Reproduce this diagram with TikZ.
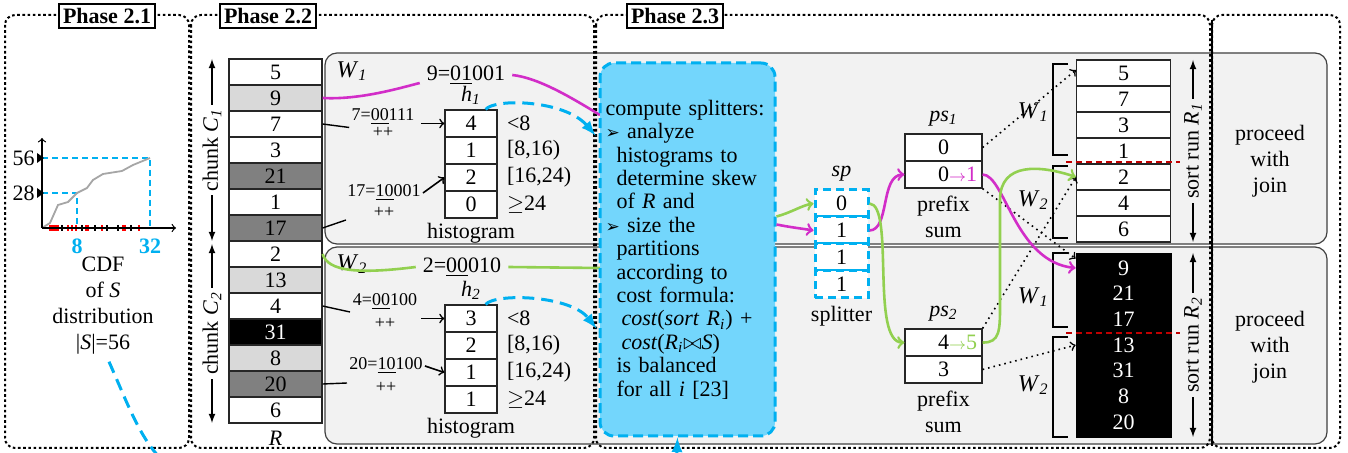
\documentclass[tikz,border=0pt]{standalone}
\usepackage{fontspec}
\setmainfont{Liberation Serif}
\newfontfamily\dingfont{DejaVu Sans}
\usepackage{xcolor}
\usetikzlibrary{positioning,calc}

\definecolor{magline}{RGB}{210,45,200}
\definecolor{grnline}{RGB}{146,208,80}
\definecolor{cyanline}{RGB}{0,176,240}
\definecolor{cyanfill}{RGB}{115,214,252}
\definecolor{panelgray}{RGB}{242,242,242}
\definecolor{lgray}{RGB}{217,217,217}
\definecolor{dgray}{RGB}{128,128,128}
\definecolor{darkred}{RGB}{192,0,0}

\newcommand{\toarr}{{\fontsize{8}{8}\selectfont$\rightarrow$}}
\newcommand{\bul}{{\dingfont\fontsize{8.5}{8.5}\selectfont ➢}}
\newcommand{\isub}[2]{\textit{#1}\textsubscript{\textit{#2}}}

\begin{document}
\begin{tikzpicture}[
    x=0.5pt, y=-0.5pt,
    font=\fontsize{11}{13}\selectfont,
    phasebox/.style={line width=1pt, dash pattern=on 1.3pt off 1.3pt, rounded corners=5pt},
    phaselabel/.style={draw, fill=white, line width=1pt, inner sep=2pt,
        font=\fontsize{11}{13}\selectfont\bfseries},
    panel/.style={draw=black!75, fill=panelgray, line width=0.6pt, rounded corners=6pt},
    cell/.style={draw=black!85, line width=0.6pt, inner sep=0pt,
        minimum width=46.5pt, minimum height=13pt},
    hcell/.style={cell, fill=white, minimum width=26pt, minimum height=13.5pt},
    pscell/.style={cell, fill=white, minimum width=38.5pt, minimum height=13.5pt},
    spcell/.style={draw=cyanline, fill=white, line width=1.5pt, dash pattern=on 4pt off 2.5pt,
        inner sep=0pt, minimum width=26.5pt, minimum height=13.5pt},
    small/.style={font=\fontsize{9}{10}\selectfont, inner sep=1pt},
    wlab/.style={font=\fontsize{12}{14}\selectfont, inner sep=1pt},
    magpath/.style={draw=magline, line width=1.3pt},
    grnpath/.style={draw=grnline, line width=1.3pt},
    cyanarrow/.style={draw=cyanline, line width=1.5pt, dash pattern=on 6pt off 3.5pt, -latex},
    cdfdash/.style={draw=cyanline, line width=0.8pt, dash pattern=on 3pt off 2pt},
    dotarrow/.style={line width=0.8pt, dash pattern=on 0.8pt off 2pt, ->},
    bracket/.style={line width=1pt},
    splitline/.style={draw=darkred, line width=1.3pt, dash pattern=on 3pt off 2pt},
    splitbox/.style={draw=cyanline, fill=cyanfill, line width=1.5pt, dash pattern=on 5pt off 2.5pt,
        rounded corners=7pt, minimum width=87.5pt, minimum height=186.5pt,
        text width=82pt, inner xsep=2.5pt, align=left, font=\fontsize{11}{11.7}\selectfont}
]
\useasboundingbox (0,0) rectangle (1348,453);
\clip (0,0) rectangle (1348,453);
\fill[white] (0,0) rectangle (1348,453);

% worker panels
\draw[panel] (325,53) rectangle (1327,244);
\draw[panel] (325,247) rectangle (1327,444);

% phases
\draw[phasebox] (5,15) rectangle (189,448);
\draw[phasebox] (191,15) rectangle (594,448);
\draw[phasebox] (596,15) rectangle (1210,448);
\draw[phasebox] (1212,15) rectangle (1340,448);
\draw[line width=0.6pt] (1212,20) -- (1212,446);
\node[phaselabel] (ph1) at (107,16) {Phase 2.1};
\node[phaselabel] (ph2) at (268,16) {Phase 2.2};
\node[phaselabel] (ph3) at (675,16) {Phase 2.3};

% Phase 2.1: CDF of S
\draw[cdfdash] (42,158) -- (150,158) -- (150,228);
\draw[cdfdash] (42,193) -- (77,193) -- (77,228);
\draw[black!35, line width=0.9pt] plot coordinates {(42,228) (50,223) (58,205) (68,202)
    (77,193) (87,188) (93,180) (103,174) (122,171) (133,165) (150,158)};
\foreach \x in {50,52,54,56,58,68,72,76,86,88,102,123,125,139}
    \draw[red, line width=1pt] (\x,225) -- (\x,231);
\foreach \x in {62,82,95,107,118,131}
    \draw[line width=1pt] (\x,225) -- (\x,231);
\draw[->, line width=0.6pt] (42,228) -- (42,138);
\draw[->, line width=0.6pt] (42,228) -- (176,228);
\fill (37,153) -- (44,158) -- (37,163) -- cycle;
\fill (37,188) -- (44,193) -- (37,198) -- cycle;
\node[anchor=east, inner sep=1pt] (y56) at (37,158) {56};
\node[anchor=east, inner sep=1pt] (y28) at (37,193) {28};
\node[text=cyanline, font=\fontsize{11}{13}\selectfont\bfseries] (x8) at (77,246) {8};
\node[text=cyanline, font=\fontsize{11}{13}\selectfont\bfseries] (x32) at (150,246) {32};
\node[align=center] (cdftext) at (103,306) {CDF\\of \textit{S}\\distribution\\|\textit{S}|=56};

% Phase 2.2: relation R in two chunks
\foreach \v/\f/\c [count=\i] in {5/white/black, 9/lgray/black, 7/white/black, 3/white/black,
    21/dgray/black, 1/white/black, 17/dgray/black, 2/white/black, 13/lgray/black,
    4/white/black, 31/black/white, 8/lgray/black, 20/dgray/black, 6/white/black}
    \node[cell, fill=\f, text=\c] (r\i) at (275.5,{46+26*\i}) {\v};
\node[below=0pt of r14] (rlab) {\textit{R}};
\draw[latex-latex, line width=0.6pt] (212,59) -- node[fill=white, rotate=90, inner sep=2pt] (ch1) {chunk \isub{C}{1}} (212,241);
\draw[latex-latex, line width=0.6pt] (212,244) -- node[fill=white, rotate=90, inner sep=2pt] (ch2) {chunk \isub{C}{2}} (212,423);

% histograms
\foreach \v/\rng [count=\i] in {4/{<8}, 1/{[8,16)}, 2/{[16,24)}, 0/{$\geq$24}} {
    \node[hcell] (ha\i) at (471,{96.5+27*\i}) {\v};
    \node[anchor=west] (hra\i) at (500,{96.5+27*\i}) {\rng};
}
\foreach \v/\rng [count=\i] in {3/{<8}, 2/{[8,16)}, 1/{[16,24)}, 1/{$\geq$24}} {
    \node[hcell] (hb\i) at (471,{291.5+27*\i}) {\v};
    \node[anchor=west] (hrb\i) at (500,{291.5+27*\i}) {\rng};
}
\node[above=-1pt of ha1] (h1lab) {\isub{h}{1}};
\node[below=-1pt of ha4] (hist1) {histogram};
\node[above=-1pt of hb1] (h2lab) {\isub{h}{2}};
\node[below=-1pt of hb4] (hist2) {histogram};

\node[wlab] (w1lab) at (352,71) {\isub{W}{1}};
\node[wlab] (w2lab) at (352,264) {\isub{W}{2}};
\node (w1code) at (466,75) {9=\underline{01}001};
\node (w2code) at (462,267) {2=\underline{00}010};

\node[small] (inc1) at (383,117) {7=\underline{00}111};
\node[small] (pp1) at (383,132) {++};
\node[small] (inc2) at (384,193) {17=\underline{10}001};
\node[small] (pp2) at (384,212) {++};
\node[small] (inc3) at (385,302) {4=\underline{00}100};
\node[small] (pp3) at (385,323) {++};
\node[small] (inc4) at (386,366) {20=\underline{10}100};
\node[small] (pp4) at (386,387) {++};

\coordinate (c17) at (346,220);
\coordinate (c4) at (350,312);
\coordinate (c20) at (347,383);
\draw[line width=0.7pt] (r3.east) -- (inc1.south west);
\draw[line width=0.7pt] (r7.east) -- (c17);
\draw[line width=0.7pt] (r10.east) -- (c4);
\draw[line width=0.7pt] (r13.east) -- (c20);
\draw[->, line width=0.8pt] (inc1.east |- ha1.west) ++(4,0) -- (ha1.west);
\draw[->, line width=0.8pt] (inc2.east) -- (ha3.west);
\draw[->, line width=0.8pt] (inc3.east |- hb1.west) ++(2,0) -- (hb1.west);
\draw[->, line width=0.8pt] (inc4.east) -- (hb3.west);

% Phase 2.3: splitters
\draw[magpath] (r2.east) .. controls (360,100) and (400,88) .. ([yshift=-4pt]w1code.west);
\draw[magpath] (w1code.east) .. controls (540,78) and (575,100) .. (600,115);
\draw[grnpath] (r8.east) .. controls (328,272) and (360,274) .. (w2code.west);
\draw[grnpath] (w2code.east) -- (600,268);

\node[splitbox] (split) at (687.5,249.5) {compute splitters:\\
    \bul\ analyze\\
    \hspace*{5.5pt}histograms to\\
    \hspace*{5.5pt}determine skew\\
    \hspace*{5.5pt}of \textit{R} and\\
    \bul\ size the\\
    \hspace*{5.5pt}partitions\\
    \hspace*{5.5pt}according to\\
    \hspace*{5.5pt}cost formula:\\
    \hspace*{8pt}\textit{cost}(\textit{sort} \isub{R}{i}) +\\
    \hspace*{8pt}\textit{cost}(\isub{R}{i}$\bowtie$\textit{S})\\
    \hspace*{5.5pt}is balanced\\
    \hspace*{5.5pt}for all \textit{i} [23]};

\draw[cyanarrow] ([xshift=-6pt]ha1.north east) .. controls (495,98) and (565,100) .. ($(split.north west)+(-3,74)$);
\draw[cyanarrow] ([xshift=-6pt]hb1.north east) .. controls (495,293) and (570,295) .. ($(split.north west)+(-2,267)$);
\draw[cyanarrow] ([xshift=3pt]cdftext.south) .. controls (135,420) and (150,470) .. (200,480)
    -- (640,480) .. controls (676,480) .. ($(split.south)+(-10,0)$);

\foreach \v [count=\i] in {0,1,1,1}
    \node[spcell] (sp\i) at (841.5,{176.5+27*\i}) {\v};
\node[above=0pt of sp1] (splab) {\textit{sp}};
\node[below=0pt of sp4] (sptext) {splitter};

\draw[grnpath, ->] ($(split.north east)+(0,155)$) .. controls +(15,-4) and +(-12,2) .. (sp1.west);
\draw[magpath, ->] ($(split.north east)+(0,163)$) .. controls +(15,3) and +(-12,-2) .. (sp2.west);

% prefix sums
\node[pscell] (pa1) at (943.5,147.5) {0};
\node[pscell] (pb1) at (943.5,174.5) {\hphantom{\toarr1}0\textcolor{magline}{\toarr1}};
\node[above=0pt of pa1] (ps1lab) {\isub{ps}{1}};
\node[below=0pt of pb1, align=center] (ps1text) {prefix\\sum};
\node[pscell] (pa2) at (943.5,342.5) {\hphantom{\toarr5}4\textcolor{grnline}{\toarr5}};
\node[pscell] (pb2) at (943.5,369.5) {3};
\node[above=0pt of pa2] (ps2lab) {\isub{ps}{2}};
\node[below=0pt of pb2, align=center] (ps2text) {prefix\\sum};

\draw[magpath, ->] (sp2.east) .. controls (890,230) and (880,175) .. (pb1.west);
\draw[grnpath, ->] (sp1.east) .. controls (895,205) and (870,343) .. (pa2.west);

% sorted runs
\foreach \v [count=\i] in {5,7,3,1,2,4,6}
    \node[cell, fill=white, minimum width=47pt] (s\i) at (1123.5,{47+26*\i}) {\v};
\node[draw, fill=black, minimum width=47.5pt, minimum height=92pt] (run2) at (1123.5,345) {};
\foreach \v [count=\i] in {9,21,17,13,31,8,20}
    \node[text=white] (u\i) at (1123.5,{242.3+25.7*\i}) {\v};

\draw[splitline] (1066,162) -- (1180,162);
\draw[splitline] (1066,333) -- (1180,333);

\draw[bracket] (1068,64) -- (1053,64) -- (1053,155) -- (1068,155);
\draw[bracket] (1068,166) -- (1053,166) -- (1053,238) -- (1068,238);
\draw[bracket] (1068,253) -- (1053,253) -- (1053,327) -- (1068,327);
\draw[bracket] (1068,337) -- (1053,337) -- (1053,437) -- (1068,437);
\node[wlab, anchor=east] (wr1a) at (1051,112) {\isub{W}{1}};
\node[wlab, anchor=east] (wr1b) at (1051,200) {\isub{W}{2}};
\node[wlab, anchor=east] (wr2a) at (1051,297) {\isub{W}{1}};
\node[wlab, anchor=east] (wr2b) at (1051,385) {\isub{W}{2}};

\draw[dotarrow] (pa1.east) -- ([yshift=1.5pt]s1.west);
\draw[dotarrow] (pb1.south east) -- ([yshift=-3pt]run2.north west);
\draw[dotarrow] (pa2.north east) -- (s5.west);
\draw[dotarrow] (pb2.east) -- (run2.west |- u4);

\draw[magpath, ->] (pb1.east) .. controls (1005,175) and (1015,262) .. (run2.west |- u1);
\draw[grnpath, ->] (pa2.east) .. controls (1000,343) and (1000,330) .. (1000,305)
    -- (1000,200) .. controls (1000,162) and (1040,165) .. (s5.west);

\draw[latex-latex, line width=0.6pt] (1193,60) -- node[fill=panelgray, rotate=90, inner sep=2pt] (sr1) {sort run \isub{R}{1}} (1193,242);
\draw[latex-latex, line width=0.6pt] (1193,253) -- node[fill=panelgray, rotate=90, inner sep=2pt] (sr2) {sort run \isub{R}{2}} (1193,437);

\node[align=center] (join1) at (1270,161) {proceed\\with\\join};
\node[align=center] (join2) at (1270,347) {proceed\\with\\join};
\end{tikzpicture}
\end{document}
